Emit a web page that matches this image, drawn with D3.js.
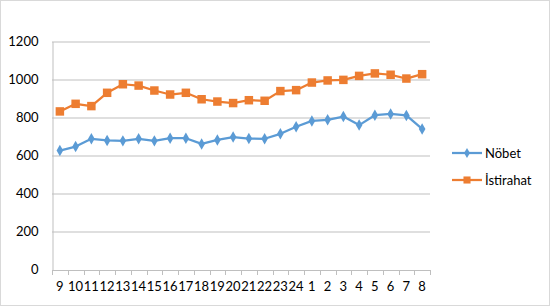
<!DOCTYPE html>
<html>
<head>
<meta charset="utf-8">
<script src="https://cdn.jsdelivr.net/npm/d3@7"></script>
<style>
  body { margin: 0; background: #fff; }
  text { font-family: Lato, "Open Sans", sans-serif; fill: #000; }
</style>
</head>
<body>
<div id="chart"></div>
<script>
// categories (hours) and series values
let hours = ["9", "10", "11", "12", "13", "14", "15", "16", "17", "18", "19", "20",
  "21", "22", "23", "24", "1", "2", "3", "4", "5", "6", "7", "8"]
let nobet = [626, 647, 688, 679, 677, 688, 677, 691, 691, 661, 682, 697,
  689, 688, 714, 751, 782, 788, 805, 760, 812, 819, 811, 740]
let istirahat = [832, 872, 860, 930, 975, 968, 942, 921, 930, 896, 884, 876,
  891, 888, 939, 944, 984, 995, 998, 1019, 1032, 1025, 1005, 1028]
let yTicks = [0, 200, 400, 600, 800, 1000, 1200]
let seriesNames = ["Nöbet", "İstirahat"]

let W = 554, H = 307
let margin = { top: 41.5, left: 52, right: 124, bottom: 37.5 }
let width = W - margin.left - margin.right
let height = H - margin.top - margin.bottom

let svg = d3.select("#chart").append("svg")
  .attr("width", W)
  .attr("height", H)

// chart border
svg.append("rect")
  .attr("x", 0.5).attr("y", 0.5)
  .attr("width", 549).attr("height", 305)
  .attr("fill", "#fff")
  .attr("stroke", "#d9d9d9")

let g = svg.append("g")
  .attr("transform", "translate(" + margin.left + "," + margin.top + ")")

let x = d3.scaleBand().domain(hours).range([0, width])
let y = d3.scaleLinear().domain([0, 1200]).range([height, 0])

// gridlines
g.append("g")
  .selectAll("line")
  .data(yTicks.filter(d => d > 0))
  .enter().append("line")
  .attr("x1", 0).attr("x2", width)
  .attr("y1", d => Math.round(y(d)) + 0.5)
  .attr("y2", d => Math.round(y(d)) + 0.5)
  .attr("stroke", "#bfbfbf")

// y axis
let yAxis = g.append("g")
  .attr("transform", "translate(0.5,0)")
  .call(d3.axisLeft(y).tickValues(yTicks).tickFormat(d3.format("d")).tickSize(0).tickPadding(14))
yAxis.select(".domain").attr("stroke", "#bfbfbf")
yAxis.selectAll("text").style("font-size", "13px")

// x axis with ticks at category boundaries
let xAxis = g.append("g")
  .attr("transform", "translate(0," + (Math.round(height) + 0.5) + ")")
  .call(d3.axisBottom(x).tickSize(0).tickPadding(12))
xAxis.select(".domain").attr("stroke", "#bfbfbf")
xAxis.selectAll("text").style("font-size", "13px")
xAxis.selectAll(".bnd")
  .data(d3.range(hours.length + 1))
  .enter().append("line")
  .attr("class", "bnd")
  .attr("x1", i => Math.round(i * x.step()) + 0.5)
  .attr("x2", i => Math.round(i * x.step()) + 0.5)
  .attr("y1", 0).attr("y2", 5)
  .attr("stroke", "#bfbfbf")

let cx = d => x(d) + x.bandwidth() / 2

function drawSeries(values, color, shape, size) {
  let pts = hours.map((h, i) => ({ h: h, v: values[i] }))
  g.append("path")
    .datum(pts)
    .attr("fill", "none")
    .attr("stroke", color)
    .attr("stroke-width", 2.25)
    .attr("stroke-linejoin", "round")
    .attr("d", d3.line().x(d => cx(d.h)).y(d => y(d.v)))
  g.append("g")
    .selectAll("path")
    .data(pts)
    .enter().append("path")
    .attr("transform", d => "translate(" + cx(d.h) + "," + y(d.v) + ")")
    .attr("d", d3.symbol().type(shape).size(size))
    .attr("fill", color)
}

drawSeries(nobet, "#5b9bd5", d3.symbolDiamond, 38)
drawSeries(istirahat, "#ed7d31", d3.symbolSquare, 72)

// legend
let legend = svg.append("g")
let legendItems = [
  { name: seriesNames[0], color: "#5b9bd5", shape: d3.symbolDiamond, size: 30, y: 153 },
  { name: seriesNames[1], color: "#ed7d31", shape: d3.symbolSquare, size: 50, y: 180 }
]
legendItems.forEach(function (d) {
  legend.append("line")
    .attr("x1", 452).attr("x2", 482)
    .attr("y1", d.y).attr("y2", d.y)
    .attr("stroke", d.color)
    .attr("stroke-width", 2.25)
  legend.append("path")
    .attr("transform", "translate(467," + d.y + ")")
    .attr("d", d3.symbol().type(d.shape).size(d.size))
    .attr("fill", d.color)
  legend.append("text")
    .attr("x", 485)
    .attr("y", d.y)
    .attr("dy", "0.35em")
    .style("font-size", "13px")
    .text(d.name)
})
</script>
</body>
</html>
